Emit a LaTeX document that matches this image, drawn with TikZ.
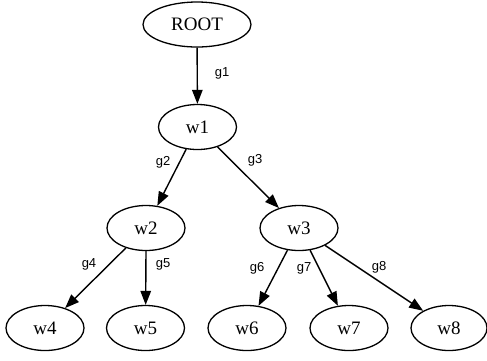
\documentclass[tikz,border=0pt]{standalone}
\usepackage{fontspec}
\setmainfont{Liberation Serif}
\newfontfamily\lblfont{Liberation Sans}
\usetikzlibrary{shapes.geometric,arrows.meta}
\tikzset{
  wnode/.style={draw, ellipse, line width=1.3pt, minimum width=78pt, minimum height=45pt, inner sep=0pt, font=\fontsize{19}{22}\selectfont},
  edge/.style={draw, line width=1.4pt, -{Triangle[length=14pt,width=10.5pt]}},
  elabel/.style={font=\lblfont\fontsize{13}{15}\selectfont, inner sep=0pt}
}
\begin{document}
\begin{tikzpicture}[x=1pt,y=-1pt]
\useasboundingbox (0,0) rectangle (487,360);
\node[wnode, minimum width=108pt] (root) at (197,24.5) {ROOT};
\node[wnode] (w1) at (197.5,127) {w1};
\node[wnode] (w2) at (146,228) {w2};
\node[wnode] (w3) at (299,228) {w3};
\node[wnode] (w4) at (45,328) {w4};
\node[wnode] (w5) at (145.5,328) {w5};
\node[wnode] (w6) at (247,328) {w6};
\node[wnode] (w7) at (349,328) {w7};
\node[wnode, minimum width=76pt] (w8) at (449,328) {w8};
\draw[edge] (root) -- (w1);
\draw[edge] (w1) -- (w2);
\draw[edge] (w1) -- (w3);
\draw[edge] (w2) -- (w4);
\draw[edge] (w2.south) -- (w5);
\draw[edge] (w3) -- (w6);
\draw[edge] (w3) -- (w7);
\draw[edge] (w3) -- (w8);
\node[elabel] (g1) at (222,73) {g1};
\node[elabel] (g2) at (163,162) {g2};
\node[elabel] (g3) at (255,160) {g3};
\node[elabel] (g4) at (89,264) {g4};
\node[elabel] (g5) at (163,264) {g5};
\node[elabel] (g6) at (257,268) {g6};
\node[elabel] (g7) at (304,268) {g7};
\node[elabel] (g8) at (379,267) {g8};
\end{tikzpicture}
\end{document}
